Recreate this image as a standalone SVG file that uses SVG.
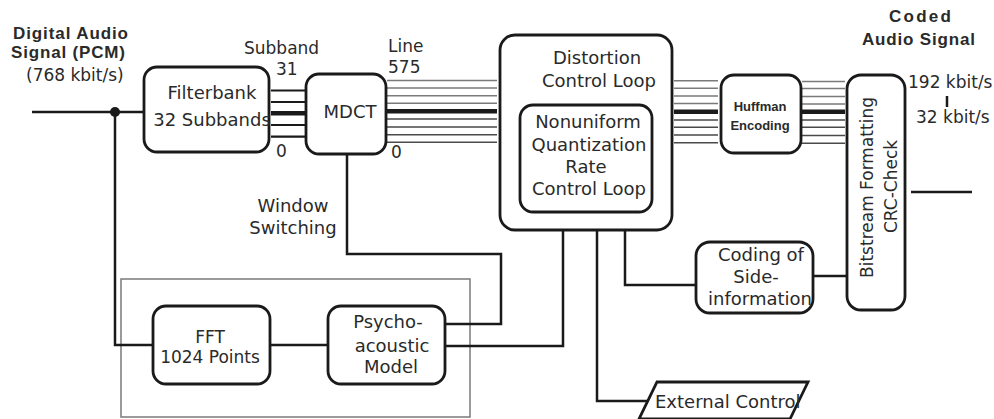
<svg xmlns="http://www.w3.org/2000/svg" width="994" height="419" viewBox="0 0 994 419">
<style>
.box{fill:#fff;stroke:#1a1a1a;stroke-width:2.8}
.t{font-family:"DejaVu Sans",sans-serif;font-size:18px;fill:#2a2a2a}
.s{font-size:17px}
.m{text-anchor:middle}
.b{font-family:"Liberation Sans",Arial,sans-serif;font-weight:bold;font-size:17px;fill:#2a2a2a}
.hb{font-family:"Liberation Sans",Arial,sans-serif;font-weight:bold;font-size:13px;fill:#2a2a2a;text-anchor:middle}
.w{fill:none;stroke:#1a1a1a;stroke-width:2.5}
.bl{fill:none;stroke:#1a1a1a;stroke-width:2.2}
.bk{fill:none;stroke:#1a1a1a;stroke-width:4.5}
.gl{fill:none;stroke:#7a7a7a;stroke-width:1.6}
.dl{fill:none;stroke:#4a4a4a;stroke-width:1.6}
</style>

<!-- thin gray frame around FFT / psychoacoustic model -->
<rect id="frame" x="121" y="279" width="349" height="138" fill="none" stroke="#7a7a7a" stroke-width="1.5"/>

<g id="connectors">
  <path class="w" d="M32,112 H144"/>
  <circle cx="115" cy="112" r="5" fill="#1a1a1a"/>
  <path class="w" d="M115,112 V345 H153"/>
  <path class="w" d="M270,345 H328"/>
  <path class="w" d="M445,324 H501 V254 H347 V154"/>
  <path class="w" d="M445,346 H563 V230"/>
  <path class="w" d="M625,230 V285 H696"/>
  <path class="w" d="M597,230 V401 H648"/>
  <path class="w" d="M813,276 H847"/>
  <path class="w" d="M911,192 H972"/>
  <path class="w" d="M947,96 V107"/>
  <!-- subband lines filterbank -> MDCT -->
  <g id="subbands">
    <path class="bl" d="M271,90.5 H306 M271,102 H306 M271,125 H306 M271,136.7 H306"/>
    <path class="bk" d="M271,113.3 H306"/>
  </g>
  <!-- spectral lines MDCT -> distortion loop -->
  <g id="lines1">
    <path class="gl" d="M387,80.5 H497 M387,88 H497 M387,95.7 H497 M387,103.3 H497"/>
    <path class="dl" d="M387,119 H497 M387,127 H497 M387,134.7 H497 M387,142.3 H497"/>
    <path class="bk" d="M387,111.3 H497" stroke-width="5"/>
  </g>
  <g id="lines2">
    <path class="gl" d="M674,80.7 H718 M674,88.3 H718 M674,96 H718 M674,103.5 H718"/>
    <path class="dl" d="M674,120 H718 M674,127.3 H718 M674,135 H718 M674,142.7 H718"/>
    <path class="bk" d="M674,111.7 H718" stroke-width="5"/>
  </g>
  <g id="lines3">
    <path class="gl" d="M802,81.5 H845 M802,88.5 H845 M802,96.5 H845 M802,104 H845"/>
    <path class="dl" d="M802,120 H845 M802,127.3 H845 M802,135.5 H845 M802,143.3 H845"/>
    <path class="bk" d="M802,111.7 H845" stroke-width="5"/>
  </g>
</g>

<g id="input-label">
  <text class="b" x="13" y="39" textLength="115">Digital Audio</text>
  <text class="b" x="11" y="58" textLength="114">Signal (PCM)</text>
  <text class="t s" x="26" y="81">(768 kbit/s)</text>
</g>

<g id="subband-labels">
  <text class="t s" x="244" y="54">Subband</text>
  <text class="t s" x="276" y="75">31</text>
  <text class="t s" x="276" y="157">0</text>
  <text class="t s" x="388" y="51.5">Line</text>
  <text class="t s" x="388" y="73">575</text>
  <text class="t s" x="391" y="158">0</text>
</g>

<g id="filterbank">
  <rect class="box" x="144" y="67" width="125" height="85" rx="13"/>
  <text class="t m" x="212" y="99">Filterbank</text>
  <text class="t m" x="212" y="126">32 Subbands</text>
</g>

<g id="mdct">
  <rect class="box" x="306" y="74" width="80" height="80" rx="13"/>
  <text class="t m" x="350" y="117.5">MDCT</text>
</g>

<g id="window-switching">
  <text class="t m" x="293" y="212">Window</text>
  <text class="t m" x="293" y="234">Switching</text>
</g>

<g id="distortion">
  <rect class="box" x="500" y="35" width="172" height="195" rx="15"/>
  <text class="t m" x="597" y="64">Distortion</text>
  <text class="t m" x="599" y="87">Control Loop</text>
</g>

<g id="rate-loop">
  <rect class="box" x="520" y="105" width="132" height="107" rx="13"/>
  <text class="t m" x="588" y="128">Nonuniform</text>
  <text class="t m" x="589" y="150.5">Quantization</text>
  <text class="t m" x="586" y="172.5">Rate</text>
  <text class="t m" x="589" y="195">Control Loop</text>
</g>

<g id="huffman">
  <rect class="box" x="721" y="75" width="80" height="78" rx="13"/>
  <text class="hb" x="760" y="111">Huffman</text>
  <text class="hb" x="760" y="130">Encoding</text>
</g>

<g id="bitstream">
  <rect class="box" x="847" y="75" width="58" height="235" rx="14"/>
  <text class="t s m" transform="translate(872.5,187.5) rotate(-90)">Bitstream Formatting</text>
  <text class="t s m" transform="translate(897,186.5) rotate(-90)">CRC-Check</text>
</g>

<g id="output-label">
  <text class="b m" x="920" y="21.5" textLength="62">Coded</text>
  <text class="b m" x="918.5" y="45" textLength="113">Audio Signal</text>
  <text class="t s" x="908" y="88">192 kbit/s</text>
  <text class="t s" x="916" y="123">32 kbit/s</text>
</g>

<g id="side-info">
  <rect class="box" x="696" y="242" width="117" height="71" rx="14"/>
  <text class="t m" x="761" y="261">Coding of</text>
  <text class="t m" x="756" y="283">Side-</text>
  <text class="t m" x="760" y="305">information</text>
</g>

<g id="fft">
  <rect class="box" x="153" y="306" width="117" height="78" rx="13"/>
  <text class="t s m" x="210" y="343">FFT</text>
  <text class="t s m" x="210" y="362.5">1024 Points</text>
</g>

<g id="psycho">
  <rect class="box" x="328" y="306" width="117" height="78" rx="13"/>
  <text class="t m" x="388" y="328">Psycho-</text>
  <text class="t m" x="392" y="351.5">acoustic</text>
  <text class="t m" x="391" y="373">Model</text>
</g>

<g id="external-control">
  <polygon class="box" points="657,382 808,382 790,419 639,419"/>
  <text class="t" x="655" y="408">External Control</text>
</g>
</svg>
